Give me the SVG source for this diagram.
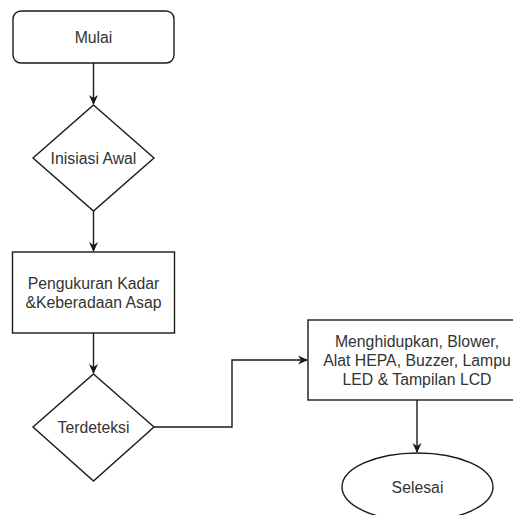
<svg xmlns="http://www.w3.org/2000/svg" width="513" height="515" viewBox="0 0 513 515">
<style>
.shape{fill:#fff;stroke:#1a1a1a;stroke-width:1.4}
.conn{fill:none;stroke:#1a1a1a;stroke-width:1.4}
text{font-family:"Liberation Sans",Arial,sans-serif;font-size:15.8px;fill:#333;text-anchor:middle;dominant-baseline:central}
</style>
<defs>
<marker id="arr" viewBox="0 0 10 10" refX="9" refY="5" markerWidth="10" markerHeight="10" markerUnits="userSpaceOnUse" orient="auto">
<path d="M0,0.5 L10,5 L0,9.5 L3,5 Z" fill="#1a1a1a"/>
</marker>
</defs>
<rect width="513" height="515" fill="#fff"/>
<g id="connectors">
<path class="conn" d="M93.5,63 V104" marker-end="url(#arr)"/>
<path class="conn" d="M93.5,211 V251" marker-end="url(#arr)"/>
<path class="conn" d="M93.5,333 V373" marker-end="url(#arr)"/>
<path class="conn" d="M154,427 H232 V360 H307" marker-end="url(#arr)"/>
<path class="conn" d="M417,400 V452" marker-end="url(#arr)"/>
</g>
<g id="mulai">
<rect class="shape" x="13" y="11" width="161" height="52" rx="8"/>
<text x="93.5" y="37">Mulai</text>
</g>
<g id="inisiasi">
<path class="shape" d="M93.5,105 L154,158 L93.5,211 L33,158 Z"/>
<text x="93.5" y="158">Inisiasi Awal</text>
</g>
<g id="pengukuran">
<rect class="shape" x="12.5" y="252" width="162" height="81"/>
<text x="93.5" y="283">Pengukuran Kadar</text>
<text x="93.5" y="302.5">&amp;Keberadaan Asap</text>
</g>
<g id="terdeteksi">
<path class="shape" d="M93.5,374 L154,427 L93.5,481 L33,427 Z"/>
<text x="93.5" y="427">Terdeteksi</text>
</g>
<g id="menghidupkan">
<rect class="shape" x="308" y="320" width="218" height="80"/>
<text x="417" y="341.5">Menghidupkan, Blower,</text>
<text x="417" y="360.5">Alat HEPA, Buzzer, Lampu</text>
<text x="417" y="379.5">LED &amp; Tampilan LCD</text>
</g>
<g id="selesai">
<ellipse class="shape" cx="417.5" cy="487" rx="75.5" ry="34"/>
<text x="417.5" y="487">Selesai</text>
</g>
</svg>
